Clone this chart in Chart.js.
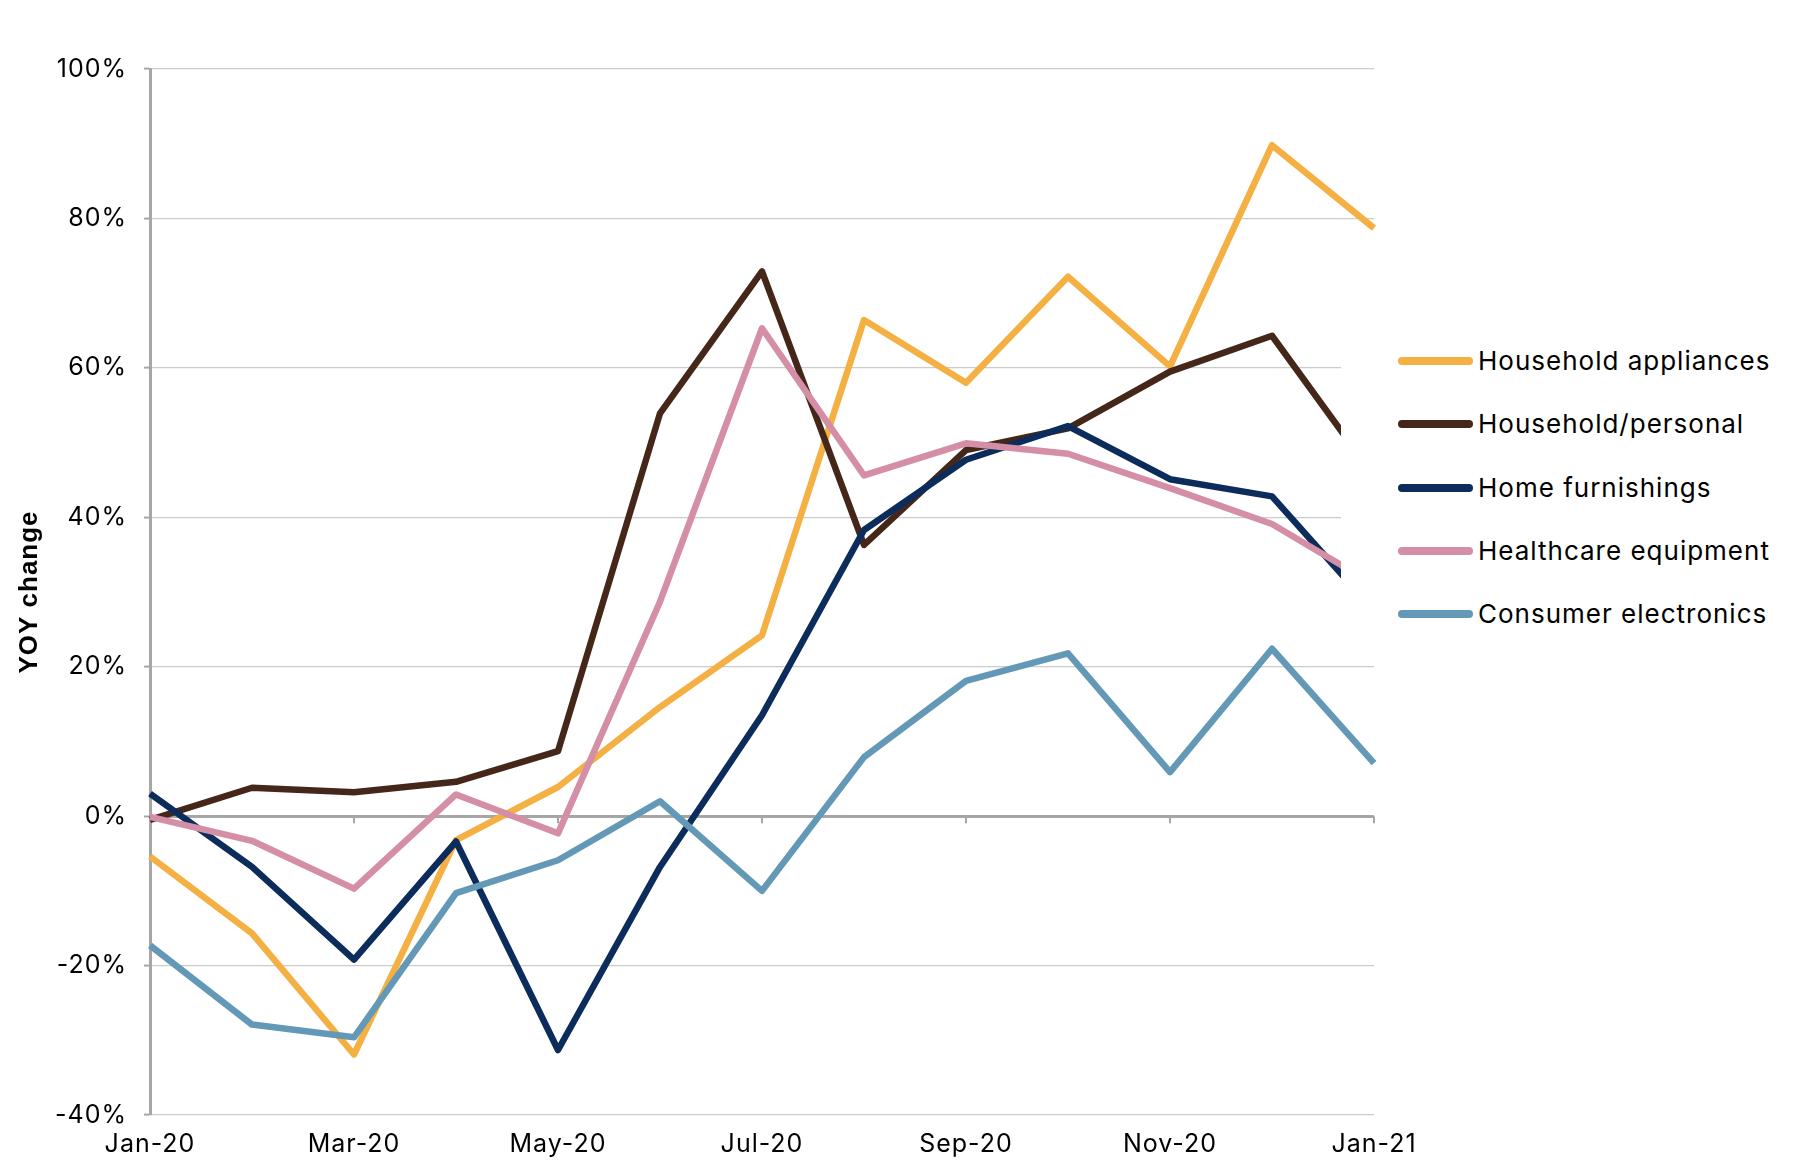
<!DOCTYPE html>
<html>
<head>
<meta charset="utf-8">
<script src="https://cdn.jsdelivr.net/npm/chart.js@4.4.1/dist/chart.umd.min.js"></script>
<style>
  html, body { margin: 0; padding: 0; background: #fff; }
  #wrap { position: relative; width: 1806px; height: 1172px; overflow: hidden; }
  #legend {
    position: absolute; left: 1341px; top: 320px; width: 465px; height: 340px;
    background: #fff;
  }
  .item { position: absolute; left: 57px; height: 40px; display: flex; align-items: center; }
  .swatch { width: 75px; height: 8px; border-radius: 4px; margin-right: 5px; }
  .label {
    font-family: Inter, "Noto Sans", sans-serif; font-size: 26px; line-height: 40px;
    letter-spacing: 1px; color: #000; white-space: nowrap;
  }
</style>
</head>
<body>
<div id="wrap">
  <canvas id="chart" width="1806" height="1172"></canvas>
  <div id="legend"></div>
</div>
<script>
// months on the x axis
const months = ["Jan-20", "Feb-20", "Mar-20", "Apr-20", "May-20", "Jun-20", "Jul-20",
  "Aug-20", "Sep-20", "Oct-20", "Nov-20", "Dec-20", "Jan-21"];

// YOY change, %
const householdAppliances = [-5.4, -15.7, -31.9, -3.2, 3.9, 14.6, 24.2, 66.4, 58.0, 72.2, 60.2, 89.8, 78.7];
const householdPersonal = [-0.5, 3.8, 3.2, 4.6, 8.7, 53.9, 72.9, 36.3, 49.0, 51.9, 59.5, 64.3, 45.5];
const homeFurnishings = [3.0, -6.8, -19.2, -3.4, -31.3, -6.8, 13.5, 38.3, 47.7, 52.2, 45.1, 42.8, 27.5];
const healthcareEquipment = [-0.1, -3.3, -9.7, 2.9, -2.3, 28.7, 65.3, 45.6, 49.9, 48.5, 43.9, 39.1, 31.0];
const consumerElectronics = [-17.3, -27.9, -29.6, -10.3, -5.9, 2.0, -10.0, 7.9, 18.1, 21.8, 5.9, 22.4, 7.1];

const seriesNames = ["Household appliances", "Household/personal", "Home furnishings",
  "Healthcare equipment", "Consumer electronics"];
const seriesData = [householdAppliances, householdPersonal, homeFurnishings,
  healthcareEquipment, consumerElectronics];
const seriesColors = ["#F5B043", "#45271A", "#0C2C5C", "#D48FA6", "#6399B6"];

const yTicks = [-40, -20, 0, 20, 40, 60, 80, 100];

const axisGray = "#A6A6A6";
const gridGray = "#CBCBCB";
const tickFont = { family: "Inter, 'Noto Sans', sans-serif", size: 25 };

// small tick marks under the zero line, at the labelled months
const zeroTicks = {
  id: "zeroTicks",
  beforeDraw(chart) {
    chart.ctx.letterSpacing = "1px"; // spaced-out tick labels
  },
  beforeDatasetsDraw(chart) {
    const x = chart.scales.x;
    const y0 = chart.scales.y.getPixelForValue(0);
    const ctx = chart.ctx;
    ctx.save();
    ctx.strokeStyle = axisGray;
    ctx.lineWidth = 2;
    for (let i = 2; i < months.length; i += 2) {
      const px = x.getPixelForValue(i);
      ctx.beginPath();
      ctx.moveTo(px, y0);
      ctx.lineTo(px, y0 + 7);
      ctx.stroke();
    }
    ctx.restore();
  },
  afterDraw(chart) {
    chart.ctx.letterSpacing = "0px";
  },
};

const ctx = document.getElementById("chart").getContext("2d");
const chart = new Chart(ctx, {
  type: "line",
  data: {
    labels: months,
    datasets: seriesNames.map((name, i) => ({
      label: name,
      data: seriesData[i],
      borderColor: seriesColors[i],
      backgroundColor: seriesColors[i],
      borderWidth: 6.5,
      borderJoinStyle: "round",
      pointRadius: 0,
      tension: 0,
      order: seriesNames.length - i, // later series on top
    })),
  },
  options: {
    responsive: false,
    animation: false,
    layout: { padding: { left: 0, right: 432, top: 69, bottom: 0 } },
    plugins: { legend: { display: false }, tooltip: { enabled: false } },
    scales: {
      x: {
        offset: false,
        grid: { display: false, drawTicks: false },
        border: { display: false },
        ticks: {
          autoSkip: false,
          maxRotation: 0,
          padding: 14,
          color: "#000",
          font: tickFont,
          callback: (v, i) => (i % 2 === 0 ? months[i] : ""),
        },
        afterFit: (s) => { s.height = 57; },
      },
      y: {
        min: -40,
        max: 100,
        afterBuildTicks: (s) => { s.ticks = yTicks.map((v) => ({ value: v })); },
        grid: {
          color: (c) => (c.tick && c.tick.value === 0 ? axisGray : gridGray),
          lineWidth: (c) => (c.tick && c.tick.value === 0 ? 3 : 1.2),
          tickColor: axisGray,
          tickLength: 6,
          tickWidth: 2,
        },
        border: { display: true, color: axisGray, width: 3 },
        ticks: {
          padding: 17,
          color: "#000",
          font: tickFont,
          callback: (v) => v + "%",
        },
        title: {
          display: true,
          text: "YOY change",
          color: "#000",
          font: { family: "'Liberation Sans', Arial, sans-serif", size: 26, weight: "bold" },
          padding: { top: 14, bottom: 0 },
        },
        afterFit: (s) => { s.width = 150; },
      },
    },
  },
  plugins: [zeroTicks],
});

// legend box (white, sits over the right edge of the plot)
const legend = document.getElementById("legend");
seriesNames.forEach((name, i) => {
  const row = document.createElement("div");
  row.className = "item";
  row.style.top = (43 - 20 - 2 + i * 63.25) + "px";
  row.innerHTML = `<span class="swatch" style="background:${seriesColors[i]}"></span><span class="label">${name}</span>`;
  legend.appendChild(row);
});
</script>
</body>
</html>
